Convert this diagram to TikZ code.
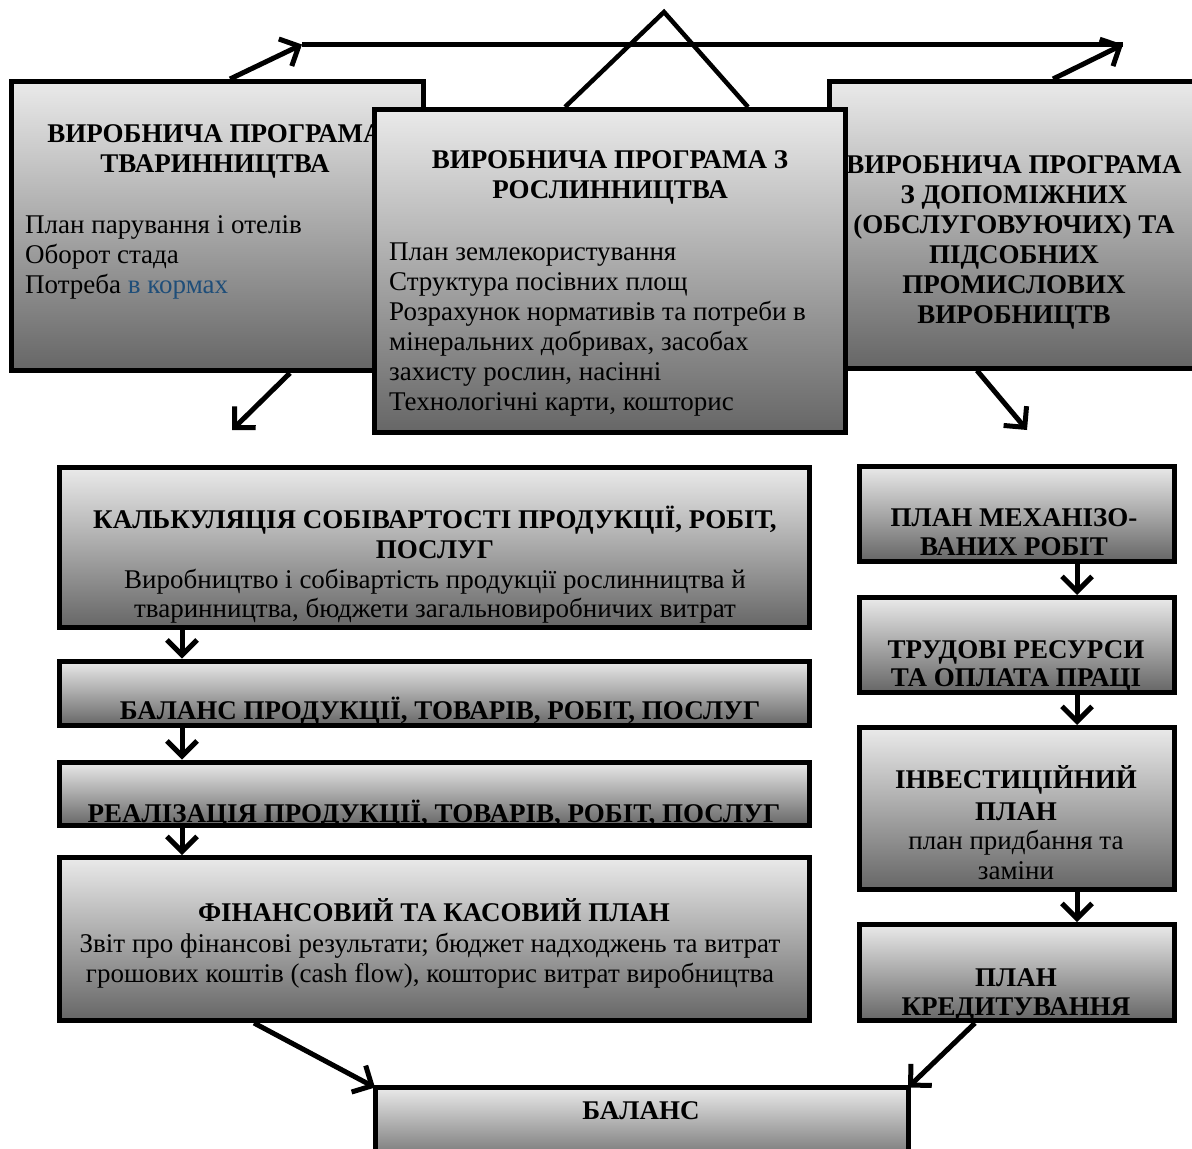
\documentclass[tikz,border=0pt]{standalone}
\usepackage{fontspec}
\setmainfont{Liberation Serif}
\usetikzlibrary{arrows.meta}
\definecolor{boxtop}{RGB}{234,234,234}
\definecolor{boxbot}{RGB}{102,102,102}
\definecolor{linkblue}{RGB}{31,78,121}

% shaded panel without its frame: name, x, y (frame top-left), width, height
\newcommand\panel[5]{%
  \node[panelfill, minimum width=#4pt, minimum height=#5pt] (#1) at (#2,#3) {};}
% black frame around an existing panel
\newcommand\frameof[1]{%
  \draw[frameline] (#1.north west) rectangle (#1.south east);}
% fixed height for the first line of every label
\newcommand\firstline{\rule{0pt}{25pt}}

\begin{document}
\begin{tikzpicture}[x=1pt,y=-1pt,
  panelfill/.style={rectangle, anchor=north west, inner sep=0pt, outer sep=0pt,
    top color=boxtop, bottom color=boxbot},
  frameline/.style={draw=black, line width=5pt},
  ttl/.style={font=\fontsize{27}{30}\selectfont\bfseries, align=center, inner sep=0pt, anchor=north},
  txt/.style={font=\fontsize{27}{30}\selectfont, align=left, inner sep=0pt, anchor=north west},
  txtc/.style={font=\fontsize{27}{30}\selectfont, align=center, inner sep=0pt, anchor=north},
  link/.style={line width=5pt, -{Straight Barb[length=15pt,width=30pt,line width=5pt]}},
  plainline/.style={line width=5pt},
  legline/.style={line width=4.5pt}]

\useasboundingbox (0,0) rectangle (1192,1149);

% ---- top row: three production programmes ----
\panel{A}{11.5}{81.5}{412}{289}
\frameof{A}
\node[ttl] (tA) at (215,117) {\firstline ВИРОБНИЧА ПРОГРАМА\\ТВАРИННИЦТВА};
\node[txt] (bA) at (25,208) {\firstline План парування і отелів\\Оборот стада\\Потреба \textcolor{linkblue}{в кормах}};

\panel{C}{829.5}{81.5}{380}{286.5}
\frameof{C}
\node[ttl] (tC) at (1014,148) {\firstline ВИРОБНИЧА ПРОГРАМА\\З ДОПОМІЖНИХ\\(ОБСЛУГОВУЮЧИХ) ТА\\ПІДСОБНИХ\\ПРОМИСЛОВИХ\\ВИРОБНИЦТВ};

\panel{B}{374.5}{109.5}{471}{323}
\node[ttl] (tB) at (610,143) {\firstline ВИРОБНИЧА ПРОГРАМА З\\РОСЛИННИЦТВА};
\node[txt] (bB) at (389,235) {\firstline План землекористування\\Структура посівних площ\\Розрахунок нормативів та потреби в\\мінеральних добривах, засобах\\захисту рослин, насінні\\Технологічні карти, кошторис};
\frameof{B}

% triangle standing on the middle programme
\coordinate (apex) at (664,12);
\draw[legline] ([xshift=190.5pt,yshift=2.5pt]B.north west) -- (apex) -- ([xshift=373.5pt,yshift=2.5pt]B.north west);

% ---- top connectors ----
\coordinate (tl) at (302,44.5);
\coordinate (tr) at (1123,44.5);
\draw[plainline] (tl) -- (tr);
\draw[link] ([xshift=218.5pt,yshift=2.5pt]A.north west) -- (tl);
\draw[link] ([xshift=223.5pt,yshift=2.5pt]C.north west) -- (tr);
\coordinate (aout) at (232,430);
\coordinate (cout) at (1027,430);
\draw[link] ([xshift=278.5pt,yshift=-2.5pt]A.south west) -- (aout);
\draw[link] ([xshift=147.5pt,yshift=-2.5pt]C.south west) -- (cout);

% ---- left column ----
\panel{D}{59.5}{467.5}{749.5}{160}
\node[ttl] (tD) at (435,503) {\firstline КАЛЬКУЛЯЦІЯ СОБІВАРТОСТІ ПРОДУКЦІЇ, РОБІТ,\\ПОСЛУГ};
\node[txtc, font=\fontsize{27}{29}\selectfont] (bD) at (435,563) {\firstline Виробництво і собівартість продукції рослинництва й\\тваринництва, бюджети загальновиробничих витрат};
\frameof{D}

\panel{E}{59.5}{661}{749.5}{64.5}
\node[ttl] (tE) at (440,694) {\firstline БАЛАНС ПРОДУКЦІЇ, ТОВАРІВ, РОБІТ, ПОСЛУГ};
\frameof{E}

\panel{F}{59.5}{762}{749.5}{63.5}
\node[ttl] (tF) at (434,797) {\firstline РЕАЛІЗАЦІЯ ПРОДУКЦІЇ, ТОВАРІВ, РОБІТ, ПОСЛУГ};
\frameof{F}

\panel{G}{59.5}{857.5}{749.5}{163}
\node[ttl] (tG) at (434,896) {\firstline ФІНАНСОВИЙ ТА КАСОВИЙ ПЛАН};
\node[txtc] (bG) at (430,927) {\firstline Звіт про фінансові результати; бюджет надходжень та витрат\\грошових коштів (cash flow), кошторис витрат виробництва};
\frameof{G}

\draw[link] ([xshift=122.5pt,yshift=-2.5pt]D.south west) -- ([xshift=122.5pt,yshift=2.5pt]E.north west);
\draw[link] ([xshift=122.5pt,yshift=-2.5pt]E.south west) -- ([xshift=122.5pt,yshift=2.5pt]F.north west);
\draw[link] ([xshift=122.5pt,yshift=-2.5pt]F.south west) -- ([xshift=122.5pt,yshift=2.5pt]G.north west);

% ---- right column ----
\panel{H}{859.5}{466}{314.5}{95}
\node[ttl, font=\fontsize{27}{29}\selectfont\bfseries] (tH) at (1014,501) {\firstline ПЛАН МЕХАНІЗО-\\ВАНИХ РОБІТ};
\frameof{H}

\panel{I}{859.5}{597.5}{314.5}{94.5}
\node[ttl, font=\fontsize{27}{28}\selectfont\bfseries] (tI) at (1016,633) {\firstline ТРУДОВІ РЕСУРСИ\\ТА ОПЛАТА ПРАЦІ};
\frameof{I}

\panel{J}{859.5}{727.5}{314.5}{162}
\node[ttl, font=\fontsize{27}{32}\selectfont\bfseries] (tJ) at (1016,763) {\firstline ІНВЕСТИЦІЙНИЙ\\ПЛАН};
\node[txtc] (bJ) at (1016,824) {\firstline план придбання та\\заміни};
\frameof{J}

\panel{K}{859.5}{924.5}{314.5}{96}
\node[ttl, font=\fontsize{27}{29}\selectfont\bfseries] (tK) at (1016,961) {\firstline ПЛАН\\КРЕДИТУВАННЯ};
\frameof{K}

\draw[link] ([xshift=217.5pt,yshift=-2.5pt]H.south west) -- ([xshift=217.5pt,yshift=2.5pt]I.north west);
\draw[link] ([xshift=217.5pt,yshift=-2.5pt]I.south west) -- ([xshift=217.5pt,yshift=2.5pt]J.north west);
\draw[link] ([xshift=217.5pt,yshift=-2.5pt]J.south west) -- ([xshift=217.5pt,yshift=2.5pt]K.north west);

% ---- bottom: balance ----
\panel{L}{375}{1087.5}{533}{80}
\node[ttl] (tL) at (641,1094) {\firstline БАЛАНС};
\frameof{L}

\draw[link] ([xshift=194.5pt,yshift=-2.5pt]G.south west) -- (L.north west);
\draw[link] ([xshift=115.5pt,yshift=-2.5pt]K.south west) -- (L.north east);
\end{tikzpicture}
\end{document}
